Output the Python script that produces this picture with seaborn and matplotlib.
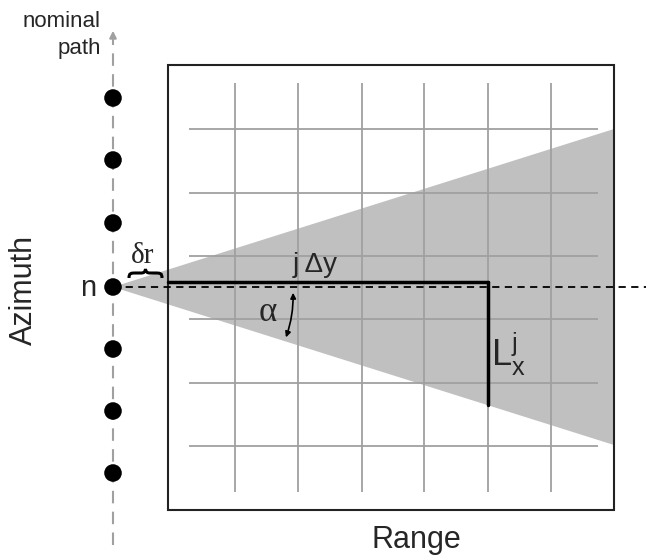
import numpy as np
import matplotlib.pyplot as plt
import seaborn as sns
import pandas as pd
from matplotlib.patches import Polygon, Rectangle, FancyArrowPatch, PathPatch
from matplotlib.path import Path

sns.set_style("white")
plt.rcParams['font.family'] = ['Liberation Sans', 'DejaVu Sans']
plt.rcParams['mathtext.fontset'] = 'custom'
plt.rcParams['mathtext.rm'] = 'Liberation Sans'
plt.rcParams['mathtext.it'] = 'Liberation Sans'

# Diagram geometry (pixel units, y grows downward)
path_x = 113
dot_y = [98, 160, 223, 287, 349, 411, 473]
nominal_y = 287
box_left, box_right, box_top, box_bottom = 168, 614, 65, 510
grid_x = [235, 298, 362, 424, 488, 551]
grid_y = [129, 193, 256, 319, 383, 446]
wedge_top_y, wedge_bot_y = 129, 445
jdy_y, jdy_x_end = 282, 488
lx_bottom = 405

fig = plt.figure(figsize=(6.46, 5.59), dpi=100)
ax = fig.add_axes([0, 0, 1, 1])

# gray beam wedge
wedge = Polygon([(path_x, nominal_y), (box_right, wedge_top_y), (box_right, wedge_bot_y)],
                closed=True, facecolor='#c0c0c0', edgecolor='none', zorder=1)
ax.add_patch(wedge)

# grid
ax.vlines(grid_x, 83, 492, color='#a0a0a0', lw=1.3, zorder=2)
ax.hlines(grid_y, 189, 598, color='#a0a0a0', lw=1.3, zorder=2)

# box
ax.add_patch(Rectangle((box_left, box_top), box_right - box_left, box_bottom - box_top,
                       fill=False, edgecolor='#222222', lw=1.5, zorder=3))

# nominal path (dashed gray with arrow)
ax.plot([path_x, path_x], [545, 40], color='#a0a0a0', lw=1.5, ls=(0, (6, 4)), zorder=2)
ax.annotate('', xy=(path_x, 28), xytext=(path_x, 42),
            arrowprops=dict(arrowstyle='-|>', color='#a0a0a0', lw=1.5, mutation_scale=10))

# dashed line through n
ax.plot([path_x, 646], [nominal_y, nominal_y], color='black', lw=1.3, ls=(0, (4, 3)), zorder=4)

# j dy line and L_x^j line
ax.plot([box_left, jdy_x_end], [jdy_y, jdy_y], color='black', lw=2.5, zorder=5)
ax.plot([jdy_x_end, jdy_x_end], [jdy_y, lx_bottom], color='black', lw=2.5, zorder=5)

# positions along path
dots = pd.DataFrame({'x': [path_x] * len(dot_y), 'y': dot_y})
sns.scatterplot(data=dots, x='x', y='y', s=160, color='black', edgecolor='none', ax=ax, zorder=6)
ax.set_xlim(0, 646)
ax.set_ylim(559, 0)
ax.axis('off')

# brace over delta r
verts = [(129, 278), (129, 273), (131, 273), (136, 273),
         (141, 273),
         (144, 273), (145, 272), (145.5, 269),
         (146, 272), (147, 273), (150, 273),
         (155, 273),
         (160, 273), (162, 273), (162, 278)]
codes = [Path.MOVETO, Path.CURVE4, Path.CURVE4, Path.CURVE4,
         Path.LINETO,
         Path.CURVE4, Path.CURVE4, Path.CURVE4,
         Path.CURVE4, Path.CURVE4, Path.CURVE4,
         Path.LINETO,
         Path.CURVE4, Path.CURVE4, Path.CURVE4]
ax.add_patch(PathPatch(Path(verts, codes), fill=False, lw=2.2, edgecolor='black', zorder=6))

# alpha arrow
ax.add_patch(FancyArrowPatch((293, 290), (285, 340), arrowstyle='<|-|>', mutation_scale=8,
                             connectionstyle='arc3,rad=-0.1', color='black', lw=1.2, zorder=6))

# texts
ax.text(101, 27, 'nominal', ha='right', va='baseline', fontsize=16)
ax.text(101, 54, 'path', ha='right', va='baseline', fontsize=16)
ax.text(24, 290, 'Azimuth', rotation=90, ha='center', va='center', fontsize=22)
ax.text(416, 548, 'Range', ha='center', va='baseline', fontsize=22)
ax.text(88, 296, 'n', ha='center', va='baseline', fontsize=21)
ax.text(143, 263, 'δr', ha='center', va='baseline', fontsize=21, family=['Liberation Serif', 'DejaVu Serif'])
ax.text(293, 272, 'j Δy', ha='left', va='baseline', fontsize=20)
ax.text(268, 321, 'α', ha='center', va='baseline', fontsize=25, family=['Liberation Serif', 'DejaVu Serif'])
ax.text(491, 366, r'$\mathrm{L}_\mathrm{x}^\mathrm{j}$', ha='left', va='baseline', fontsize=26)

fig.savefig('out.png', dpi=100)
